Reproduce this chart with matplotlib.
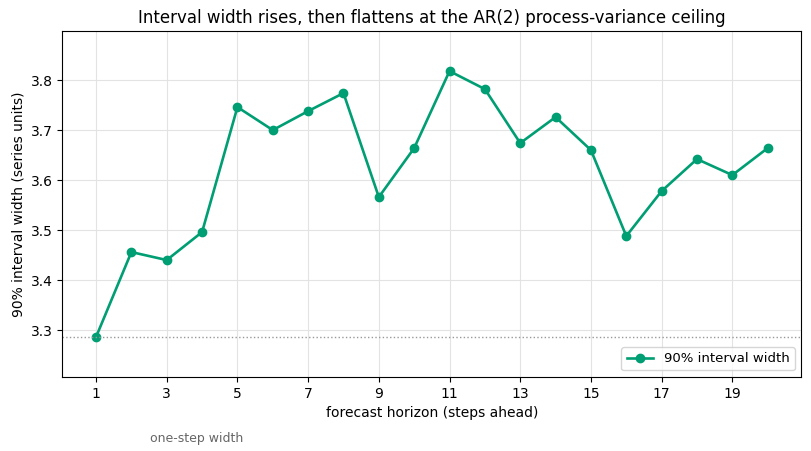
import matplotlib
matplotlib.use("Agg")
from matplotlib import pyplot as plt

horizon = list(range(1, 21))
width = [3.286, 3.456, 3.440, 3.496, 3.746, 3.700, 3.738, 3.774, 3.566, 3.664,
         3.818, 3.782, 3.674, 3.726, 3.660, 3.488, 3.578, 3.642, 3.610, 3.664]
one_step = width[0]

fig, ax = plt.subplots(figsize=(8.11, 4.51), dpi=100)
fig.subplots_adjust(left=0.077, right=0.988, top=0.931, bottom=0.164)

ax.plot(horizon, width, color="#009E73", lw=1.9, marker="o", ms=6,
        label="90% interval width")
ax.axhline(one_step, color="#999999", lw=1, ls=":")
ax.text(0.118, -0.16, "one-step width", transform=ax.transAxes,
        color="#666666", fontsize=9, va="top")

ax.set_xticks(range(1, 21, 2))
ax.set_xlim(0.05, 20.95)
ax.set_ylim(one_step - 0.08, max(width) + 0.08)
ax.grid(True, color="#e3e3e3", lw=0.8)
ax.set_axisbelow(True)

ax.set_title("Interval width rises, then flattens at the AR(2) process-variance ceiling", fontsize=12)
ax.set_xlabel("forecast horizon (steps ahead)")
ax.set_ylabel("90% interval width (series units)")
ax.legend(loc="lower right", fontsize=9.5)

fig.savefig("out.png", dpi=100)
plt.close()
